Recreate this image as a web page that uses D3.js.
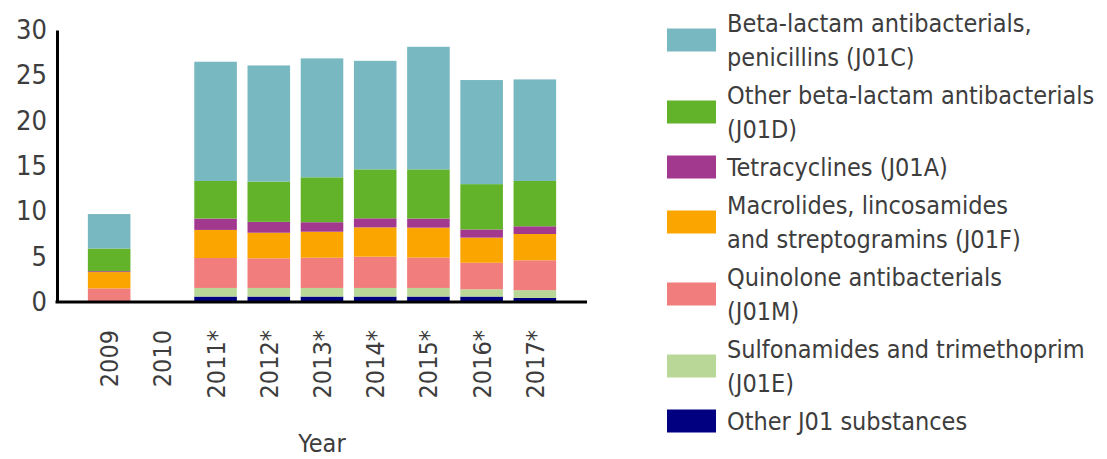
<!DOCTYPE html>
<html>
<head>
<meta charset="utf-8">
<script src="https://cdn.jsdelivr.net/npm/d3@7"></script>
<style>
  html, body { margin: 0; padding: 0; background: #ffffff; }
  svg { display: block; }
  text { font-family: "DejaVu Sans Condensed", "DejaVu Sans", sans-serif; font-stretch: condensed; fill: #3d3d3d; }
</style>
</head>
<body>
<svg id="chart" width="1107" height="459"></svg>
<script>
// ---------- data ----------
const years = ["2009", "2010", "2011*", "2012*", "2013*", "2014*", "2015*", "2016*", "2017*"];
const yTicks = [0, 5, 10, 15, 20, 25, 30];

// series listed bottom-to-top in the stack
const otherJ01      = [0,   0, 0.6,  0.6,  0.6,  0.6,  0.6,  0.6,  0.45];
const sulfonamides  = [0,   0, 0.95, 0.95, 0.95, 0.95, 0.95, 0.8,  0.85];
const quinolones    = [1.5, 0, 3.3,  3.27, 3.33, 3.45, 3.35, 2.93, 3.3];
const macrolides    = [1.8, 0, 3.1,  2.82, 2.87, 3.23, 3.3,  2.77, 2.9];
const tetracyclines = [0.1, 0, 1.25, 1.2,  1.05, 1.0,  1.0,  0.9,  0.85];
const otherBetaLact = [2.5, 0, 4.15, 4.45, 4.95, 5.4,  5.43, 5.0,  5.0];
const penicillins   = [3.8, 0, 13.15,12.8, 13.12,11.97,13.52,11.48,11.2];

const seriesKeys = ["J01X", "J01E", "J01M", "J01F", "J01A", "J01D", "J01C"];
const seriesValues = [otherJ01, sulfonamides, quinolones, macrolides, tetracyclines, otherBetaLact, penicillins];
const seriesColors = ["#000080", "#b9d897", "#f27d7d", "#fba500", "#a3398f", "#62b22a", "#78b8c0"];
const seriesLabels = [
  ["Other J01 substances"],
  ["Sulfonamides and trimethoprim", "(J01E)"],
  ["Quinolone antibacterials", "(J01M)"],
  ["Macrolides, lincosamides", "and streptogramins (J01F)"],
  ["Tetracyclines (J01A)"],
  ["Other beta-lactam antibacterials", "(J01D)"],
  ["Beta-lactam antibacterials,", "penicillins (J01C)"]
];
const xTitle = "Year";

// ---------- layout ----------
const svg = d3.select("#chart");
const fontSize = 25;
const tickFont = 27;
const x0 = 57, x1 = 587, yBase = 302, yTop = 30;

const rows = years.map((yr, i) => {
  const r = { year: yr };
  seriesKeys.forEach((k, s) => r[k] = seriesValues[s][i]);
  return r;
});

const x = d3.scaleBand().domain(years).range([x0, x1]).paddingInner(0.2).paddingOuter(0.58);
const y = d3.scaleLinear().domain([0, 30]).range([yBase, yTop]);

const stacked = d3.stack().keys(seriesKeys)(rows);
const color = d3.scaleOrdinal().domain(seriesKeys).range(seriesColors);

svg.append("g").selectAll("g")
  .data(stacked)
  .join("g")
  .attr("fill", d => color(d.key))
  .selectAll("rect")
  .data(d => d)
  .join("rect")
  .attr("x", d => x(d.data.year))
  .attr("width", x.bandwidth())
  .attr("y", d => y(d[1]))
  .attr("height", d => Math.max(0, y(d[0]) - y(d[1])));

// y axis
const gy = svg.append("g")
  .attr("transform", `translate(${x0},0)`)
  .call(d3.axisLeft(y).tickValues(yTicks).tickSize(0).tickPadding(10));
gy.select(".domain").attr("stroke", "#000").attr("stroke-width", 3);
gy.selectAll("text").style("font-size", tickFont + "px").attr("fill", "#3d3d3d");

// x axis
const gx = svg.append("g")
  .attr("transform", `translate(0,${yBase})`)
  .call(d3.axisBottom(x).tickSize(0).tickSizeOuter(0));
gx.select(".domain").attr("stroke", "#000").attr("stroke-width", 3)
  .attr("d", `M${x0 - 1.5},0H${x1}`);
gx.selectAll("text")
  .style("font-size", fontSize + "px")
  .attr("fill", "#3d3d3d")
  .attr("transform", "rotate(-90)")
  .attr("text-anchor", "end")
  .attr("x", -28)
  .attr("y", 0)
  .attr("dy", "0.36em");

svg.append("text")
  .attr("x", (x0 + x1) / 2)
  .attr("y", 452)
  .attr("text-anchor", "middle")
  .style("font-size", fontSize + "px")
  .text(xTitle);

// legend (top to bottom = reverse of stack)
const legend = svg.append("g");
const lineH = 34;
let baseline = 32;
const legendItems = seriesKeys.map((k, i) => ({ key: k, lines: seriesLabels[i] })).reverse();
legendItems.forEach(item => {
  const g = legend.append("g");
  const n = item.lines.length;
  const blockCenter = baseline + (n - 1) * lineH / 2 - 0.36 * fontSize;
  g.append("rect")
    .attr("x", 667).attr("width", 49)
    .attr("y", blockCenter - 11.5).attr("height", 23)
    .attr("fill", color(item.key));
  item.lines.forEach((t, j) => {
    g.append("text")
      .attr("x", 727)
      .attr("y", baseline + j * lineH)
      .style("font-size", fontSize + "px")
      .text(t);
  });
  baseline += n === 2 ? 72 : 38;
});
</script>
</body>
</html>
